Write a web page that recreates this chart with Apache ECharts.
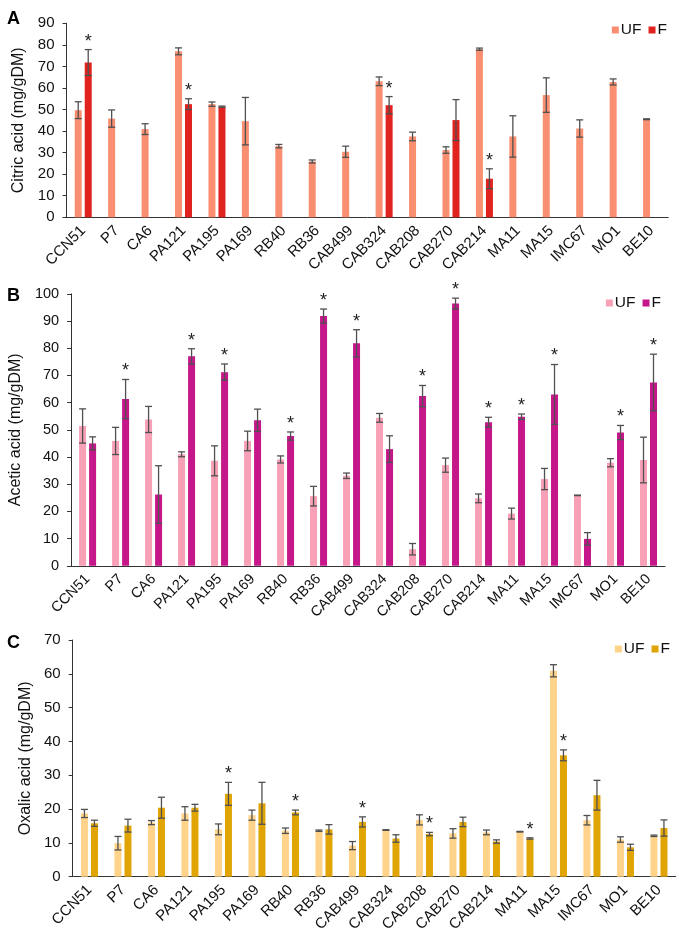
<!DOCTYPE html>
<html>
<head>
<meta charset="utf-8">
<script src="https://cdn.jsdelivr.net/npm/echarts@6/dist/echarts.min.js"></script>
<style>
  html, body { margin: 0; padding: 0; background: #fff; }
  #chart-container { width: 680px; height: 936px; }
</style>
</head>
<body>
<div id="chart-container"></div>
<script>
var dom = document.getElementById('chart-container');
var myChart = echarts.init(dom, null, { renderer: 'canvas' });

var categories = ['CCN51','P7','CA6','PA121','PA195','PA169','RB40','RB36','CAB499','CAB324',
                  'CAB208','CAB270','CAB214','MA11','MA15','IMC67','MO1','BE10'];

// citric acid (A)
var citricUF    = [49.7,45.8,40.9,77.0,52.5,44.6,33.0,25.9,30.4,63.1,37.5,31.2,78.0,37.5,56.7,41.2,62.8,45.5];
var citricUFErr = [3.9,4.0,2.5,1.6,1.0,11.0,0.8,0.7,2.6,2.0,2.0,1.5,0.5,9.6,8.0,4.0,1.4,0.2];
var citricF     = [71.8,null,null,52.5,51.3,null,null,null,null,52.0,null,45.1,17.9,null,null,null,null,null];
var citricFErr  = [6.0,0,0,2.5,0.3,0,0,0,0,4.0,0,9.5,4.6,0,0,0,0,0];
var citricStar  = [1,0,0,1,0,0,0,0,0,1,0,0,1,0,0,0,0,0];

// acetic acid (B)
var aceticUF    = [51.4,45.9,53.8,41.0,38.6,45.9,39.1,25.6,33.1,54.4,6.1,37.0,24.8,19.2,31.9,25.9,37.9,38.9];
var aceticUFErr = [6.3,5.0,4.8,0.9,5.5,3.6,1.3,3.6,1.0,1.6,2.1,2.6,1.6,2.0,3.9,0.1,1.5,8.4];
var aceticF     = [45.0,61.3,26.2,77.0,71.2,53.5,47.7,91.8,81.8,42.9,62.4,96.4,52.8,54.8,63.0,9.9,49.0,67.4];
var aceticFErr  = [2.4,7.2,10.6,2.8,3.0,4.1,1.5,2.6,5.0,4.9,3.9,2.0,1.8,1.0,11.0,2.3,2.6,10.4];
var aceticStar  = [0,1,0,1,1,0,1,1,1,0,1,1,1,1,1,0,1,1];

// oxalic acid (C)
var oxalicUF    = [18.7,9.9,16.0,18.7,14.0,18.2,13.6,13.6,9.2,13.8,16.8,12.8,13.1,13.3,60.9,16.7,11.0,12.1];
var oxalicUFErr = [1.2,2.0,0.6,2.0,1.6,1.5,0.8,0.2,1.2,0.1,1.5,1.4,0.7,0.1,1.8,1.4,0.8,0.2];
var oxalicF     = [15.8,15.1,20.4,20.4,24.5,21.7,19.0,14.0,16.2,11.3,12.6,16.2,10.4,11.3,35.9,24.1,8.7,14.4];
var oxalicFErr  = [0.9,1.9,3.1,1.0,3.4,6.2,0.7,1.4,1.5,1.1,0.5,1.4,0.5,0.2,1.6,4.4,0.9,2.4];
var oxalicStar  = [0,0,0,0,1,0,1,0,1,0,1,0,0,1,1,0,0,0];

var FONT = 'Liberation Sans, Arial, sans-serif';
var AXIS_COLOR = '#333';
var ERR_COLOR = '#505050';

var panels = [
  { letter: 'A', yName: 'Citric acid (mg/gDM)', max: 90, uf: citricUF, ufErr: citricUFErr, f: citricF, fErr: citricFErr, star: citricStar,
    colors: ['#F98F70', '#E0231F'], grid: { left: 66.5, right: 11.7, top: 23.3, height: 194 },
    fs: 15, nameGap: 36.5, letterTop: 5, legendTop: 17, legendRight: 8 },
  { letter: 'B', yName: 'Acetic acid (mg/gDM)', max: 100, uf: aceticUF, ufErr: aceticUFErr, f: aceticF, fErr: aceticFErr, star: aceticStar,
    colors: ['#F7A0B6', '#C5178A'], grid: { left: 71, right: 15, top: 293.8, height: 272 },
    fs: 14.5, nameGap: 38, letterTop: 282, legendTop: 290, legendRight: 14 },
  { letter: 'C', yName: 'Oxalic acid (mg/gDM)', max: 70, uf: oxalicUF, ufErr: oxalicUFErr, f: oxalicF, fErr: oxalicFErr, star: oxalicStar,
    colors: ['#FFD389', '#E0A405'], grid: { left: 72.7, right: 4.3, top: 640, height: 236.7 },
    fs: 15, nameGap: 36, letterTop: 629, legendTop: 636, legendRight: 5 }
];

var BAR_W = 7;
var OFFSET = 5;

function errData(vals, errs, stars) {
  var out = [];
  vals.forEach(function (v, i) {
    if (v === null) return;
    out.push([i, v, errs[i], stars ? stars[i] : 0]);
  });
  return out;
}

function errRender(offset) {
  return function (params, api) {
    var idx = api.value(0);
    var v = api.value(1);
    var e = api.value(2);
    var star = api.value(3);
    var x = api.coord([idx, v])[0] + offset;
    var hi = api.coord([idx, v + e])[1];
    var lo = api.coord([idx, Math.max(v - e, 0)])[1];
    var st = { stroke: ERR_COLOR, lineWidth: 1.3 };
    var children = [
      { type: 'line', shape: { x1: x, y1: hi, x2: x, y2: lo }, style: st },
      { type: 'line', shape: { x1: x - 3.5, y1: hi, x2: x + 3.5, y2: hi }, style: st },
      { type: 'line', shape: { x1: x - 3.5, y1: lo, x2: x + 3.5, y2: lo }, style: st }
    ];
    if (star) {
      children.push({
        type: 'text',
        style: { text: '*', x: x, y: hi + 1, textAlign: 'center', textVerticalAlign: 'bottom',
                 font: '18px ' + FONT, fill: '#222' }
      });
    }
    return { type: 'group', children: children };
  };
}

var option = {
  animation: false,
  textStyle: { fontFamily: FONT },
  title: [], legend: [], grid: [], xAxis: [], yAxis: [], series: []
};

panels.forEach(function (p, k) {
  var g = p.grid;
  option.grid.push({ left: g.left, right: g.right, top: g.top, height: g.height, containLabel: false });
  option.title.push({
    text: p.letter, left: 2, top: p.letterTop,
    textStyle: { fontSize: 18, fontWeight: 'bold', color: '#000', fontFamily: FONT }
  });
  option.legend.push({
    top: p.legendTop, right: p.legendRight,
    icon: 'rect', itemWidth: 7, itemHeight: 7, itemGap: 7,
    data: [p.letter + '-UF', p.letter + '-F'],
    formatter: function (name) { return name.split('-')[1]; },
    textStyle: { fontSize: 15.5, color: '#111', padding: [0, 0, 0, -3] }
  });
  option.xAxis.push({
    type: 'category', gridIndex: k, data: categories,
    axisLine: { lineStyle: { color: AXIS_COLOR, width: 1 } },
    axisTick: { alignWithLabel: true, length: 4, lineStyle: { color: AXIS_COLOR } },
    axisLabel: { interval: 0, rotate: 45, fontSize: p.fs, color: '#111', margin: 11 }
  });
  option.yAxis.push({
    type: 'value', gridIndex: k, min: 0, max: p.max, interval: 10,
    name: p.yName, nameLocation: 'middle', nameGap: p.nameGap,
    nameTextStyle: { fontSize: 16, color: '#111' },
    splitLine: { show: false },
    axisLine: { show: true, lineStyle: { color: AXIS_COLOR, width: 1 } },
    axisTick: { show: true, length: 4, lineStyle: { color: AXIS_COLOR } },
    axisLabel: { fontSize: p.fs, color: '#111', margin: 12 }
  });
  option.series.push({
    name: p.letter + '-UF', type: 'bar', xAxisIndex: k, yAxisIndex: k,
    data: p.uf, barWidth: BAR_W, barGap: '43%', itemStyle: { color: p.colors[0] }
  });
  option.series.push({
    name: p.letter + '-F', type: 'bar', xAxisIndex: k, yAxisIndex: k,
    data: p.f, barWidth: BAR_W, barGap: '43%', itemStyle: { color: p.colors[1] }
  });
  option.series.push({
    type: 'custom', xAxisIndex: k, yAxisIndex: k, z: 5, clip: false,
    renderItem: errRender(-OFFSET), encode: { x: 0, y: 1 },
    data: errData(p.uf, p.ufErr, null)
  });
  option.series.push({
    type: 'custom', xAxisIndex: k, yAxisIndex: k, z: 5, clip: false,
    renderItem: errRender(OFFSET), encode: { x: 0, y: 1 },
    data: errData(p.f, p.fErr, p.star)
  });
});

myChart.setOption(option);
window.addEventListener('resize', myChart.resize);
</script>
</body>
</html>
